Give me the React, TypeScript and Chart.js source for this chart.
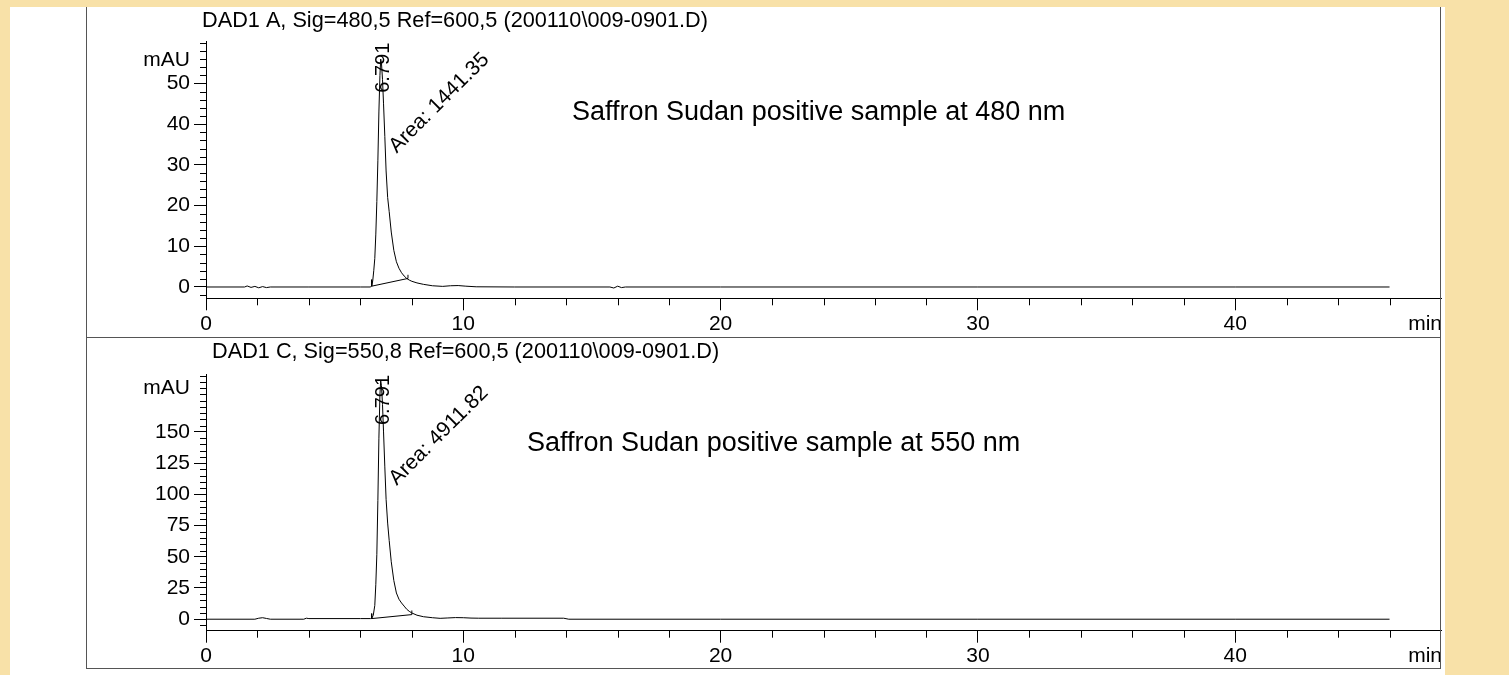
import React, { useEffect, useRef } from "react";
import { Chart, registerables } from "chart.js";

Chart.register(...registerables);

const FONT = "'Liberation Sans', Arial, Helvetica, sans-serif";

// ---------- data ----------
const PEAK_RT = 6.791;
const X_MAJOR = [0, 10, 20, 30, 40];
const X_MIN = 0;
const X_MAX = 48;

// Panel A: DAD1 A, 480 nm
const TITLE_A = "DAD1 A, Sig=480,5 Ref=600,5 (200110\\009-0901.D)";
const NOTE_A = "Saffron Sudan positive sample at 480 nm";
const AREA_A = "1441.35";
const TIME_A = [
  0, 1.5, 1.6, 1.75, 1.9, 2.05, 2.2, 2.35, 2.5, 4.0, 6.0, 6.4, 6.44, 6.48, 6.52, 6.56, 6.6, 6.64, 6.68, 6.72,
  6.76, 6.79, 6.82, 6.86, 6.9, 6.95, 7.0, 7.06, 7.12, 7.2, 7.3, 7.4, 7.5, 7.6, 7.7, 7.8, 7.9, 8.0, 8.2, 8.45,
  8.8, 9.2, 9.5, 9.8, 10.1, 10.5, 12.0, 15.7, 15.85, 16.0, 16.15, 16.3, 20, 30, 40, 46,
];
const SIGNAL_A = [
  0, 0, 0.25, -0.1, 0.15, -0.2, 0.1, -0.15, 0, 0, 0, 0, 0.3, 1.5, 4, 7, 13, 21, 31, 43,
  52, 56, 55, 51, 45, 37, 28.5, 22, 18.5, 13.5, 9, 6.2, 4.6, 3.5, 2.7, 2.1, 1.7, 1.4, 1.0, 0.65,
  0.3, 0.15, 0.3, 0.35, 0.2, 0.05, 0, 0, -0.25, 0.2, -0.15, 0, 0, 0, 0, 0,
];
const BASE_T_A = [6.44, 6.44, 7.85, 7.85];
const BASE_Y_A = [1.8, 0.2, 2.1, 3.0];
const Y_MAJOR_A = [0, 10, 20, 30, 40, 50];
const Y_RANGE_A = [-2.78, 60.27];
const Y_MINOR_STEP_A = 2;
const MAU_AT_A = 55.8;

// Panel C: DAD1 C, 550 nm
const TITLE_C = "DAD1 C, Sig=550,8 Ref=600,5 (200110\\009-0901.D)";
const NOTE_C = "Saffron Sudan positive sample at 550 nm";
const AREA_C = "4911.82";
const TIME_C = [
  0, 1.9, 2.05, 2.2, 2.35, 2.5, 3.8, 3.9, 4.0, 6.0, 6.4, 6.44, 6.5, 6.56, 6.6, 6.64, 6.68, 6.72, 6.76, 6.79,
  6.82, 6.86, 6.9, 6.95, 7.0, 7.06, 7.12, 7.2, 7.3, 7.4, 7.5, 7.6, 7.7, 7.8, 7.9, 8.0, 8.2, 8.45, 8.8, 9.1,
  9.4, 9.7, 10.0, 10.3, 10.6, 11.5, 13.9, 14.1, 20, 30, 40, 46,
];
const SIGNAL_C = [
  0, 0, 0.8, 1.2, 0.6, 0, 0, 0.8, 0.5, 0.5, 0.5, 0.8, 3, 11, 28, 52, 95, 145, 180, 191,
  187, 172, 150, 122, 96, 77, 63, 46, 31, 21, 16, 13, 10.5, 8, 6.3, 5.0, 3.2, 2.0, 1.2, 0.7,
  1.0, 1.3, 1.2, 0.9, 0.8, 0.8, 0.8, 0, 0, 0, 0, 0,
];
const BASE_T_C = [6.44, 6.44, 8.0, 8.0];
const BASE_Y_C = [4.5, 0.5, 3.7, 7.0];
const Y_MAJOR_C = [0, 25, 50, 75, 100, 125, 150];
const Y_RANGE_C = [-9.2, 196.4];
const Y_MINOR_STEP_C = 5;
const MAU_AT_C = 185.2;

type Panel = {
  title: string;
  note: string;
  area: string;
  times: number[];
  values: number[];
  baseT: number[];
  baseY: number[];
  yMajor: number[];
  yRange: number[];
  yStep: number;
  mauAt: number;
  height: number;
  areaTop: number;
  areaBottom: number;
  titleX: number;
  titleY: number;
  noteDx: number;
  noteDy: number;
};

const PANEL_A: Panel = {
  title: TITLE_A, note: NOTE_A, area: AREA_A, times: TIME_A, values: SIGNAL_A,
  baseT: BASE_T_A, baseY: BASE_Y_A, yMajor: Y_MAJOR_A, yRange: Y_RANGE_A, yStep: Y_MINOR_STEP_A,
  mauAt: MAU_AT_A, height: 345, areaTop: 34.7, areaBottom: 291.3, titleX: 192, titleY: 14,
  noteDx: 366, noteDy: 71.3,
};
const PANEL_C: Panel = {
  title: TITLE_C, note: NOTE_C, area: AREA_C, times: TIME_C, values: SIGNAL_C,
  baseT: BASE_T_C, baseY: BASE_Y_C, yMajor: Y_MAJOR_C, yRange: Y_RANGE_C, yStep: Y_MINOR_STEP_C,
  mauAt: MAU_AT_C, height: 350, areaTop: 36, areaBottom: 292.7, titleX: 202, titleY: 13.7,
  noteDx: 321, noteDy: 70,
};

const CANVAS_W = 1435;
const AREA_LEFT = 196;
const AREA_RIGHT = 1431;
const Y_AXIS_W = 120;
const X_AXIS_H = 45;

function ChromPanel({ p }: { p: Panel }) {
  const ref = useRef<HTMLCanvasElement | null>(null);
  useEffect(() => {
    if (!ref.current) return;
    const yMinor: number[] = [];
    for (let v = Math.ceil(p.yRange[0] / p.yStep) * p.yStep; v <= p.yRange[1]; v += p.yStep) {
      if (!p.yMajor.includes(v)) yMinor.push(v);
    }
    const xMinor: number[] = [];
    for (let v = 2; v <= 46; v += 2) if (!X_MAJOR.includes(v)) xMinor.push(v);

    const decor = {
      id: "decor",
      afterDraw(chart: any) {
        const { ctx, chartArea: a } = chart;
        const x = chart.scales.x;
        const y = chart.scales.y;
        ctx.save();
        ctx.strokeStyle = "#000";
        ctx.lineWidth = 1;
        ctx.beginPath();
        for (const v of yMinor) {
          const py = Math.round(y.getPixelForValue(v)) + 0.5;
          ctx.moveTo(a.left - 6, py);
          ctx.lineTo(a.left, py);
        }
        for (const v of xMinor) {
          const px = Math.round(x.getPixelForValue(v)) + 0.5;
          ctx.moveTo(px, a.bottom);
          ctx.lineTo(px, a.bottom + 7);
        }
        ctx.stroke();

        ctx.fillStyle = "#000";
        ctx.textBaseline = "middle";
        ctx.textAlign = "left";
        ctx.font = `21.7px ${FONT}`;
        ctx.fillText(p.title, p.titleX, p.titleY);
        ctx.font = `27px ${FONT}`;
        ctx.fillText(p.note, a.left + p.noteDx, a.top + p.noteDy);
        ctx.font = `21px ${FONT}`;
        ctx.textAlign = "right";
        ctx.fillText("min", a.right + 1, a.bottom + 25.6);

        const px = x.getPixelForValue(PEAK_RT);
        ctx.save();
        ctx.translate(px + 3, a.top + 1);
        ctx.rotate(-Math.PI / 2);
        ctx.textAlign = "right";
        ctx.textBaseline = "middle";
        ctx.font = `20px ${FONT}`;
        ctx.fillText(PEAK_RT.toFixed(3), 0, 0);
        ctx.restore();

        ctx.save();
        ctx.translate(px + 16, a.top + 112);
        ctx.rotate(-Math.PI / 4);
        ctx.textAlign = "left";
        ctx.textBaseline = "alphabetic";
        ctx.font = `21px ${FONT}`;
        ctx.fillText("Area: " + p.area, 0, 0);
        ctx.restore();
        ctx.restore();
      },
    };

    const lineStyle = { borderColor: "#000", borderWidth: 1, pointRadius: 0, tension: 0, fill: false };
    const chart = new Chart(ref.current, {
      type: "line",
      data: {
        datasets: [
          { ...lineStyle, data: p.times.map((t, i) => ({ x: t, y: p.values[i] })) },
          { ...lineStyle, data: p.baseT.map((t, i) => ({ x: t, y: p.baseY[i] })) },
        ],
      },
      options: {
        responsive: false,
        animation: false,
        events: [],
        layout: {
          padding: {
            left: AREA_LEFT - Y_AXIS_W,
            right: CANVAS_W - AREA_RIGHT,
            top: p.areaTop,
            bottom: p.height - p.areaBottom - X_AXIS_H,
          },
        },
        plugins: { legend: { display: false }, tooltip: { enabled: false }, title: { display: false } },
        scales: {
          x: {
            type: "linear",
            min: X_MIN,
            max: X_MAX,
            afterBuildTicks: (s: any) => {
              s.ticks = X_MAJOR.map((v) => ({ value: v }));
            },
            afterFit: (s: any) => {
              s.height = X_AXIS_H;
            },
            ticks: {
              autoSkip: false,
              maxRotation: 0,
              padding: 1,
              color: "#000",
              font: { size: 21, family: FONT },
              callback: (v: any) => String(v),
            },
            grid: { drawOnChartArea: false, drawTicks: true, tickLength: 12, tickColor: "#000", tickWidth: 1 },
            border: { display: true, color: "#000", width: 1 },
          },
          y: {
            type: "linear",
            min: p.yRange[0],
            max: p.yRange[1],
            afterBuildTicks: (s: any) => {
              s.ticks = [...p.yMajor, p.mauAt].map((v) => ({ value: v }));
            },
            afterFit: (s: any) => {
              s.width = Y_AXIS_W;
            },
            ticks: {
              autoSkip: false,
              padding: 4,
              color: "#000",
              font: { size: 21, family: FONT },
              callback: (v: any) => (v === p.mauAt ? "mAU" : String(v)),
            },
            grid: {
              drawOnChartArea: false,
              drawTicks: true,
              tickLength: 12,
              tickWidth: 1,
              tickColor: (c: any) => (c.tick && c.tick.value === p.mauAt ? "rgba(0,0,0,0)" : "#000"),
            },
            border: { display: true, color: "#000", width: 1 },
          },
        },
      } as any,
      plugins: [decor],
    });
    return () => chart.destroy();
  }, [p]);
  return <canvas ref={ref} width={CANVAS_W} height={p.height} style={{ display: "block" }} />;
}

export default function App() {
  const line = "#555";
  return (
    <div
      style={{
        position: "absolute",
        left: 0,
        top: 0,
        width: 1509,
        height: 675,
        background: "#F8E1A8",
        overflow: "hidden",
      }}
    >
      <div style={{ position: "absolute", left: 10, top: 7, width: 1435, height: 668, background: "#fff" }} />
      <div style={{ position: "absolute", left: 10, top: 7 }}>
        <ChromPanel p={PANEL_A} />
      </div>
      <div style={{ position: "absolute", left: 10, top: 338 }}>
        <ChromPanel p={PANEL_C} />
      </div>
      <div style={{ position: "absolute", left: 86, top: 7, width: 1, height: 662, background: line }} />
      <div style={{ position: "absolute", left: 1440, top: 7, width: 1, height: 662, background: line }} />
      <div style={{ position: "absolute", left: 86, top: 337, width: 1355, height: 1, background: line }} />
      <div style={{ position: "absolute", left: 86, top: 668, width: 1355, height: 1, background: line }} />
    </div>
  );
}
